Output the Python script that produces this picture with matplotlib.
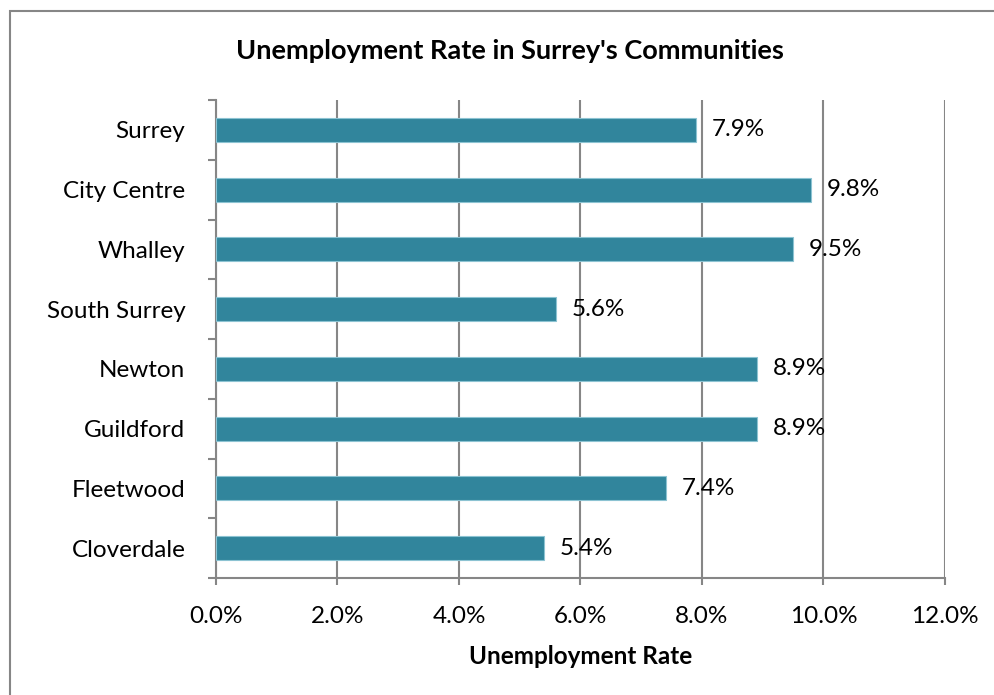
import matplotlib
matplotlib.use('Agg')
import matplotlib.pyplot as plt
from matplotlib.patches import Rectangle
from matplotlib.ticker import FuncFormatter, MultipleLocator
import numpy as np

# 数据
communities = ['Surrey', 'City Centre', 'Whalley', 'South Surrey',
               'Newton', 'Guildford', 'Fleetwood', 'Cloverdale']
rates = [7.9, 9.8, 9.5, 5.6, 8.9, 8.9, 7.4, 5.4]

plt.rcParams['font.family'] = ['Lato', 'DejaVu Sans']
FS = 17.5

fig = plt.figure(figsize=(9.95, 6.95), dpi=100)
W, H = 995, 695
ax = fig.add_axes([216 / W, 1 - 578 / H, (945 - 216) / W, (578 - 100) / H])

# 外框（右、下被裁掉）
fig.patches.append(Rectangle((10 / W, -0.05), 1.1, 1 - 11 / H + 0.05,
                             transform=fig.transFigure, fill=False,
                             edgecolor='#868686', linewidth=1.5))

y = np.arange(len(communities))
bars = ax.barh(y, rates, height=0.4, color='#31859C',
               edgecolor='#8cc3d2', linewidth=0.8, zorder=3)

for b, v in zip(bars, rates):
    ax.text(b.get_width() + 0.26, b.get_y() + b.get_height() / 2,
            f'{v:.1f}%', va='center', ha='left', fontsize=FS, zorder=4)

ax.set_xlim(0, 12)
ax.set_ylim(len(communities) - 0.5, -0.5)
ax.xaxis.set_major_locator(MultipleLocator(2))
ax.xaxis.set_major_formatter(FuncFormatter(lambda v, p: f'{v:.1f}%'))
ax.grid(axis='x', color='#868686', linewidth=1.5, zorder=0)

ax.set_yticks(y)
ax.set_yticklabels(communities)
ax.set_yticks(np.arange(-0.5, len(communities)), minor=True)
ax.tick_params(axis='y', which='major', length=0, pad=22, labelsize=FS)
ax.tick_params(axis='y', which='minor', length=6, width=1.5, color='#868686')
ax.tick_params(axis='x', length=5, width=1.5, color='#868686', pad=15, labelsize=FS)

for s in ['top', 'right']:
    ax.spines[s].set_visible(False)
for s in ['left', 'bottom']:
    ax.spines[s].set_color('#868686')
    ax.spines[s].set_linewidth(1.5)

ax.set_xlabel('Unemployment Rate', fontsize=FS, fontweight='bold', labelpad=13)
fig.text(510 / W, 1 - 51 / H, "Unemployment Rate in Surrey's Communities",
         ha='center', va='center', fontsize=19.5, fontweight='bold')

fig.savefig('out.png', dpi=100)
